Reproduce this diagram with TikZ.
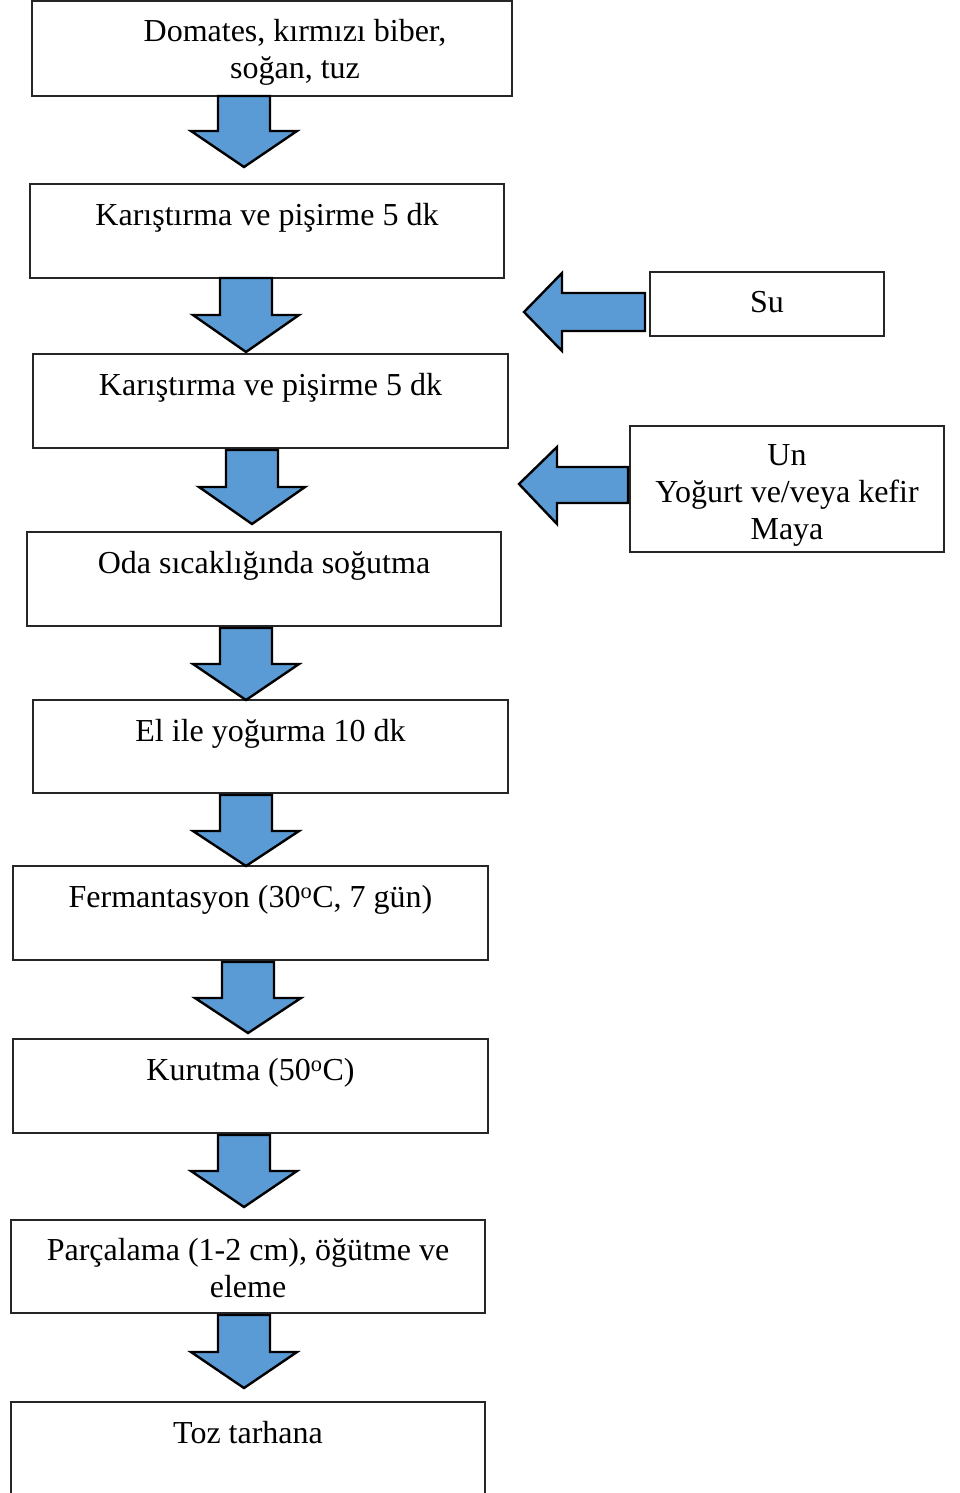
\documentclass[tikz,border=0pt]{standalone}
\usepackage{fontspec}
\setmainfont{Liberation Serif}
\definecolor{arrowblue}{HTML}{5B9BD5}
\begin{document}
\begin{tikzpicture}[x=1pt,y=-1pt,
  box/.style={draw=black!85, line width=1.2pt, inner sep=0pt, fill=white},
  txt/.style={font=\fontsize{32}{37}\selectfont, anchor=base, align=center, inner sep=0pt},
  blockarrow/.style={draw=black, line width=2.4pt, fill=arrowblue, line join=miter}]
\clip (0,0) rectangle (959,1493);
% boxes
\node[box, minimum width=480pt, minimum height=95pt] (b1) at (272,48.5) {};
\node[box, minimum width=474pt, minimum height=94pt] (b2) at (267,231) {};
\node[box, minimum width=475pt, minimum height=94pt] (b3) at (270.5,401) {};
\node[box, minimum width=474pt, minimum height=94pt] (b4) at (264,579) {};
\node[box, minimum width=475pt, minimum height=93pt] (b5) at (270.5,746.5) {};
\node[box, minimum width=475pt, minimum height=94pt] (b6) at (250.5,913) {};
\node[box, minimum width=475pt, minimum height=94pt] (b7) at (250.5,1086) {};
\node[box, minimum width=474pt, minimum height=93pt] (b8) at (248,1266.5) {};
\node[box, minimum width=474pt, minimum height=98pt] (b9) at (248,1451) {};
\node[box, minimum width=234pt, minimum height=64pt] (su) at (767,304) {};
\node[box, minimum width=314pt, minimum height=126pt] (un) at (787,489) {};
% texts (base anchor = baseline of the last line)
\node[txt] (t1) at ([xshift=23pt,yshift=-78pt]b1.north) {Domates, kırmızı biber,\\soğan, tuz};
\node[txt] (t2) at ([yshift=-42pt]b2.north) {Karıştırma ve pişirme 5 dk};
\node[txt] (t3) at ([yshift=-42pt]b3.north) {Karıştırma ve pişirme 5 dk};
\node[txt] (t4) at ([yshift=-42pt]b4.north) {Oda sıcaklığında soğutma};
\node[txt] (t5) at ([yshift=-42pt]b5.north) {El ile yoğurma 10 dk};
\node[txt] (t6) at ([yshift=-42pt]b6.north) {Fermantasyon (30\textsuperscript{o}C, 7 gün)};
\node[txt] (t7) at ([yshift=-42pt]b7.north) {Kurutma (50\textsuperscript{o}C)};
\node[txt] (t8) at ([yshift=-78pt]b8.north) {Parçalama (1-2 cm), öğütme ve\\eleme};
\node[txt] (t9) at ([yshift=-42pt]b9.north) {Toz tarhana};
\node[txt] (tsu) at ([yshift=-41pt]su.north) {Su};
\node[txt] (tun) at ([yshift=-114pt]un.north) {Un\\Yoğurt ve/veya kefir\\Maya};
% down block arrows
\draw[blockarrow] (218,96) -- (218,131) -- (191,131) -- (244,167) -- (297,131) -- (270,131) -- (270,96) -- cycle;
\draw[blockarrow] (220,278) -- (220,315) -- (193,315) -- (246,352) -- (299,315) -- (272,315) -- (272,278) -- cycle;
\draw[blockarrow] (226,450) -- (226,487) -- (199,487) -- (252,524) -- (305,487) -- (278,487) -- (278,450) -- cycle;
\draw[blockarrow] (220,628) -- (220,664) -- (193,664) -- (246,700) -- (299,664) -- (272,664) -- (272,628) -- cycle;
\draw[blockarrow] (220,795) -- (220,831) -- (193,831) -- (246,866) -- (299,831) -- (272,831) -- (272,795) -- cycle;
\draw[blockarrow] (222,962) -- (222,998) -- (195,998) -- (248,1033) -- (301,998) -- (274,998) -- (274,962) -- cycle;
\draw[blockarrow] (218,1135) -- (218,1171) -- (191,1171) -- (244,1207) -- (297,1171) -- (270,1171) -- (270,1135) -- cycle;
\draw[blockarrow] (218,1315) -- (218,1352) -- (191,1352) -- (244,1388) -- (297,1352) -- (270,1352) -- (270,1315) -- cycle;
% left block arrows
\draw[blockarrow] (645,293) -- (562,293) -- (562,273) -- (524,312) -- (562,351) -- (562,331) -- (645,331) -- cycle;
\draw[blockarrow] (628,467) -- (557,467) -- (557,447) -- (519,484) -- (557,524) -- (557,503) -- (628,503) -- cycle;
\end{tikzpicture}
\end{document}
